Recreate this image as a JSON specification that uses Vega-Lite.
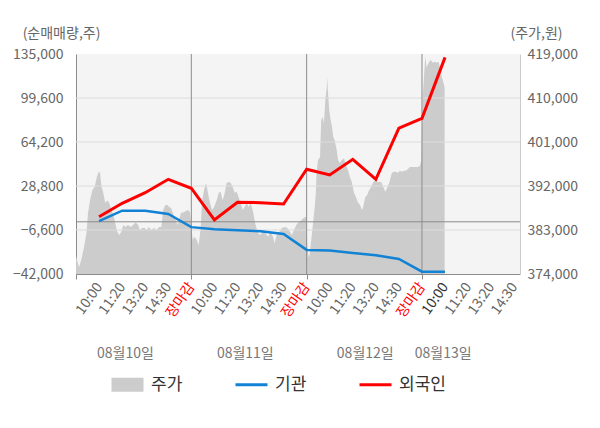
{
  "$schema": "https://vega.github.io/schema/vega-lite/v6.json",
  "width": 444,
  "height": 220,
  "autosize": "none",
  "padding": {"left": 76, "top": 54, "right": 80, "bottom": 154},
  "background": "#ffffff",
  "config": {
    "font": "Noto Sans CJK KR",
    "view": {"stroke": null, "fill": "#f4f4f4"},
    "axis": {
      "labelFont": "Noto Sans CJK KR",
      "titleFont": "Noto Sans CJK KR",
      "labelColor": "#666666",
      "titleColor": "#666666",
      "labelFontSize": 14,
      "titleFontSize": 14,
      "titleFontWeight": "normal",
      "grid": false,
      "ticks": false
    },
    "legend": {
      "title": null,
      "orient": "none",
      "legendX": 43,
      "legendY": 322,
      "direction": "horizontal",
      "padding": 0,
      "labelFont": "Noto Sans CJK KR",
      "labelFontSize": 17,
      "labelColor": "#333333",
      "labelOffset": 15,
      "columnPadding": 46,
      "symbolSize": 1024
    }
  },
  "datasets": {
    "price": [
      {"t": 0, "p": 377700}, {"t": 0.13, "p": 375400}, {"t": 0.23, "p": 376900}, {"t": 0.35, "p": 379500},
      {"t": 0.46, "p": 382600}, {"t": 0.52, "p": 386500}, {"t": 0.61, "p": 389100}, {"t": 0.71, "p": 391200},
      {"t": 0.81, "p": 391800}, {"t": 0.9, "p": 393800}, {"t": 0.98, "p": 394900}, {"t": 1.04, "p": 394700},
      {"t": 1.11, "p": 391800}, {"t": 1.18, "p": 390600}, {"t": 1.27, "p": 388500}, {"t": 1.36, "p": 389100},
      {"t": 1.44, "p": 388500}, {"t": 1.53, "p": 387100}, {"t": 1.62, "p": 386100}, {"t": 1.72, "p": 384000},
      {"t": 1.79, "p": 382600}, {"t": 1.88, "p": 382000}, {"t": 1.96, "p": 382600}, {"t": 2.05, "p": 384000},
      {"t": 2.15, "p": 383600}, {"t": 2.25, "p": 384000}, {"t": 2.37, "p": 383600}, {"t": 2.48, "p": 384000},
      {"t": 2.59, "p": 384600}, {"t": 2.69, "p": 384000}, {"t": 2.77, "p": 383000}, {"t": 2.87, "p": 383400},
      {"t": 2.98, "p": 383400}, {"t": 3.06, "p": 383000}, {"t": 3.16, "p": 383600}, {"t": 3.26, "p": 383000},
      {"t": 3.38, "p": 383400}, {"t": 3.5, "p": 383000}, {"t": 3.6, "p": 383600}, {"t": 3.7, "p": 383600},
      {"t": 3.78, "p": 387100}, {"t": 3.87, "p": 388100}, {"t": 3.96, "p": 388100}, {"t": 4.04, "p": 387700},
      {"t": 4.12, "p": 387500}, {"t": 4.26, "p": 385700}, {"t": 4.41, "p": 384000}, {"t": 4.55, "p": 386500},
      {"t": 4.69, "p": 386700}, {"t": 4.84, "p": 387100}, {"t": 4.94, "p": 386700}, {"t": 5.0, "p": 383600},
      {"t": 5.06, "p": 381000}, {"t": 5.13, "p": 381600}, {"t": 5.23, "p": 381000}, {"t": 5.32, "p": 379900},
      {"t": 5.41, "p": 383600}, {"t": 5.46, "p": 388500}, {"t": 5.55, "p": 391200}, {"t": 5.64, "p": 392600},
      {"t": 5.72, "p": 390600}, {"t": 5.81, "p": 388500}, {"t": 5.9, "p": 387100}, {"t": 5.99, "p": 387700},
      {"t": 6.1, "p": 389100}, {"t": 6.19, "p": 390600}, {"t": 6.27, "p": 390800}, {"t": 6.36, "p": 389100},
      {"t": 6.45, "p": 390600}, {"t": 6.53, "p": 392600}, {"t": 6.62, "p": 392800}, {"t": 6.71, "p": 392600},
      {"t": 6.79, "p": 391800}, {"t": 6.88, "p": 390600}, {"t": 6.97, "p": 390800}, {"t": 7.05, "p": 389700},
      {"t": 7.14, "p": 388500}, {"t": 7.23, "p": 387100}, {"t": 7.31, "p": 387700}, {"t": 7.4, "p": 388500},
      {"t": 7.49, "p": 387700}, {"t": 7.57, "p": 388500}, {"t": 7.66, "p": 387100}, {"t": 7.77, "p": 384400},
      {"t": 7.88, "p": 382400}, {"t": 8.01, "p": 382000}, {"t": 8.11, "p": 383000}, {"t": 8.21, "p": 382400},
      {"t": 8.32, "p": 381600}, {"t": 8.44, "p": 382600}, {"t": 8.54, "p": 381600}, {"t": 8.61, "p": 380300},
      {"t": 8.7, "p": 382000}, {"t": 8.81, "p": 382600}, {"t": 8.93, "p": 383400}, {"t": 9.05, "p": 383600},
      {"t": 9.16, "p": 383400}, {"t": 9.28, "p": 382600}, {"t": 9.36, "p": 382000}, {"t": 9.45, "p": 383000},
      {"t": 9.55, "p": 384000}, {"t": 9.65, "p": 384600}, {"t": 9.77, "p": 385000}, {"t": 9.88, "p": 385500},
      {"t": 9.97, "p": 385700}, {"t": 10.03, "p": 379500}, {"t": 10.09, "p": 377300}, {"t": 10.14, "p": 378300},
      {"t": 10.2, "p": 381000}, {"t": 10.29, "p": 385000}, {"t": 10.35, "p": 387700}, {"t": 10.4, "p": 390600},
      {"t": 10.43, "p": 394700}, {"t": 10.49, "p": 397300}, {"t": 10.58, "p": 397900}, {"t": 10.63, "p": 405500},
      {"t": 10.69, "p": 406100}, {"t": 10.75, "p": 404900}, {"t": 10.81, "p": 409600}, {"t": 10.87, "p": 412200},
      {"t": 10.89, "p": 414300}, {"t": 10.92, "p": 411600}, {"t": 10.98, "p": 407500}, {"t": 11.04, "p": 405500},
      {"t": 11.1, "p": 404100}, {"t": 11.15, "p": 402000}, {"t": 11.21, "p": 401400}, {"t": 11.3, "p": 399400},
      {"t": 11.36, "p": 397300}, {"t": 11.44, "p": 396700}, {"t": 11.53, "p": 397300}, {"t": 11.62, "p": 397700},
      {"t": 11.7, "p": 396300}, {"t": 11.79, "p": 395300}, {"t": 11.88, "p": 393800}, {"t": 11.96, "p": 392800},
      {"t": 12.05, "p": 390600}, {"t": 12.14, "p": 389700}, {"t": 12.22, "p": 388700}, {"t": 12.31, "p": 388100},
      {"t": 12.4, "p": 387100}, {"t": 12.45, "p": 387700}, {"t": 12.54, "p": 389700}, {"t": 12.63, "p": 390200},
      {"t": 12.71, "p": 391200}, {"t": 12.8, "p": 391800}, {"t": 12.89, "p": 392800}, {"t": 12.97, "p": 393200},
      {"t": 13.06, "p": 392800}, {"t": 13.15, "p": 392800}, {"t": 13.23, "p": 392800}, {"t": 13.32, "p": 391800},
      {"t": 13.41, "p": 390800}, {"t": 13.49, "p": 391600}, {"t": 13.58, "p": 392600}, {"t": 13.64, "p": 393800},
      {"t": 13.7, "p": 394700}, {"t": 13.78, "p": 394900}, {"t": 13.87, "p": 394900}, {"t": 13.96, "p": 394700},
      {"t": 14.04, "p": 395100}, {"t": 14.13, "p": 394900}, {"t": 14.22, "p": 395100}, {"t": 14.3, "p": 395100},
      {"t": 14.39, "p": 395500}, {"t": 14.48, "p": 395900}, {"t": 14.56, "p": 395900}, {"t": 14.65, "p": 395900},
      {"t": 14.74, "p": 395900}, {"t": 14.82, "p": 395900}, {"t": 14.91, "p": 396100}, {"t": 14.97, "p": 397300},
      {"t": 15.03, "p": 410200}, {"t": 15.08, "p": 413700}, {"t": 15.14, "p": 418400}, {"t": 15.2, "p": 416300},
      {"t": 15.29, "p": 417200}, {"t": 15.38, "p": 417800}, {"t": 15.46, "p": 417200}, {"t": 15.55, "p": 417400},
      {"t": 15.63, "p": 417200}, {"t": 15.72, "p": 417400}, {"t": 15.81, "p": 415700}, {"t": 15.86, "p": 414300},
      {"t": 15.93, "p": 413100}, {"t": 15.98, "p": 412200}
    ],
    "net": [
      {"t": 1, "series": "기관", "v": 500},
      {"t": 2, "series": "기관", "v": 8900},
      {"t": 3, "series": "기관", "v": 8800},
      {"t": 4, "series": "기관", "v": 6300},
      {"t": 5, "series": "기관", "v": -4300},
      {"t": 6, "series": "기관", "v": -6000},
      {"t": 7, "series": "기관", "v": -6800},
      {"t": 8, "series": "기관", "v": -7600},
      {"t": 9, "series": "기관", "v": -9800},
      {"t": 10, "series": "기관", "v": -22600},
      {"t": 11, "series": "기관", "v": -23000},
      {"t": 12, "series": "기관", "v": -25100},
      {"t": 13, "series": "기관", "v": -26900},
      {"t": 14, "series": "기관", "v": -29900},
      {"t": 15, "series": "기관", "v": -40100},
      {"t": 16, "series": "기관", "v": -40100},
      {"t": 1, "series": "외국인", "v": 4100},
      {"t": 2, "series": "외국인", "v": 14900},
      {"t": 3, "series": "외국인", "v": 23400},
      {"t": 4, "series": "외국인", "v": 34200},
      {"t": 5, "series": "외국인", "v": 27000},
      {"t": 6, "series": "외국인", "v": 1450},
      {"t": 7, "series": "외국인", "v": 15700},
      {"t": 8, "series": "외국인", "v": 15400},
      {"t": 9, "series": "외국인", "v": 14300},
      {"t": 10, "series": "외국인", "v": 42300},
      {"t": 11, "series": "외국인", "v": 37650},
      {"t": 12, "series": "외국인", "v": 50300},
      {"t": 13, "series": "외국인", "v": 34200},
      {"t": 14, "series": "외국인", "v": 75300},
      {"t": 15, "series": "외국인", "v": 83300},
      {"t": 16, "series": "외국인", "v": 132300}
    ],
    "grid": [{"v": 99600}, {"v": 64200}, {"v": 28800}, {"v": -6600}],
    "days": [{"d": 5}, {"d": 10}, {"d": 15}],
    "zero": [{"v": 0}]
  },
  "layer": [
    {
      "data": {"name": "price"},
      "mark": {"type": "area"},
      "encoding": {
        "x": {
          "field": "t",
          "type": "quantitative",
          "scale": {"domain": [0, 19.25], "nice": false, "zero": false},
          "axis": {
            "title": null,
            "values": [0, 1, 2, 3, 4, 5, 6, 7, 8, 9, 10, 11, 12, 13, 14, 15, 16, 17, 18, 19],
            "labelExpr": "['', '10:00', '11:20', '13:20', '14:30', '장마감', '10:00', '11:20', '13:20', '14:30', '장마감', '10:00', '11:20', '13:20', '14:30', '장마감', '10:00', '11:20', '13:20', '14:30'][datum.value]",
            "labelAngle": -55,
            "labelAlign": "right",
            "labelBaseline": "middle",
            "labelPadding": 5,
            "labelOverlap": false,
            "labelFlush": false,
            "labelBound": false,
            "labelColor": {
              "condition": [
                {"test": "datum.value > 0 && datum.value % 5 === 0", "value": "#ff0000"},
                {"test": "datum.value === 16", "value": "#333333"}
              ],
              "value": "#666666"
            },
            "ticks": true,
            "tickSize": 5,
            "tickColor": {
              "condition": {"test": "datum.value % 5 === 0", "value": "#8c8c8c"},
              "value": "transparent"
            },
            "domainColor": "#8c8c8c"
          }
        },
        "y": {
          "field": "p",
          "type": "quantitative",
          "scale": {"domain": [374000, 419000], "nice": false, "zero": false},
          "axis": {
            "orient": "right",
            "values": [374000, 383000, 392000, 401000, 410000, 419000],
            "format": ",d",
            "title": "(주가,원)",
            "titleAngle": 0,
            "titleX": 16,
            "titleY": -21,
            "titleAlign": "center",
            "titleBaseline": "middle",
            "labelPadding": 7,
            "domainColor": "#cccccc"
          }
        },
        "y2": {"datum": 374000},
        "color": {
          "datum": "주가",
          "type": "nominal",
          "scale": {
            "domain": ["주가", "기관", "외국인"],
            "range": ["#cccccc", "#1182d4", "#ff0000"]
          },
          "legend": {
            "title": null,
            "encode": {
              "symbols": {
                "update": {
                  "shape": {"signal": "datum.value === '주가' ? 'M-1,-0.43H1V0.43H-1Z' : 'stroke'"},
                  "fill": {"signal": "datum.value === '주가' ? '#cccccc' : 'transparent'"},
                  "stroke": {"signal": "datum.value === '주가' ? '#cccccc' : (datum.value === '기관' ? '#1182d4' : '#ff0000')"},
                  "strokeWidth": {"signal": "datum.value === '주가' ? 0 : 3"},
                  "opacity": {"value": 1}
                }
              }
            }
          }
        }
      }
    },
    {
      "layer": [
        {
          "data": {"name": "grid"},
          "mark": {"type": "rule", "color": "#dcdcdc", "strokeWidth": 1},
          "encoding": {"y": {"field": "v", "type": "quantitative"}}
        },
        {
          "data": {"name": "zero"},
          "mark": {"type": "rule", "color": "#8c8c8c", "strokeWidth": 1},
          "encoding": {"y": {"field": "v", "type": "quantitative"}}
        },
        {
          "data": {"name": "days"},
          "mark": {"type": "rule", "color": "#8c8c8c", "strokeWidth": 1},
          "encoding": {"x": {"field": "d", "type": "quantitative"}}
        },
        {
          "data": {"name": "net"},
          "mark": {"type": "line"},
          "encoding": {
            "x": {
              "field": "t",
              "type": "quantitative",
              "scale": {"domain": [0, 19.25], "nice": false, "zero": false},
              "axis": {
                "title": null,
                "orient": "bottom",
                "offset": 74,
                "values": [2.12, 7.32, 12.52, 15.9],
                "labelExpr": "datum.value < 5 ? '08월10일' : datum.value < 10 ? '08월11일' : datum.value < 15 ? '08월12일' : '08월13일'",
                "labelAngle": 0,
                "labelAlign": "center",
                "labelBaseline": "middle",
                "labelPadding": 5,
                "labelColor": "#777777",
                "labelOverlap": false,
                "labelFlush": false,
                "domain": false,
                "ticks": false
              }
            },
            "y": {
              "field": "v",
              "type": "quantitative",
              "scale": {"domain": [-42000, 135000], "nice": false, "zero": false},
              "axis": {
                "orient": "left",
                "values": [135000, 99600, 64200, 28800, -6600, -42000],
                "format": ",d",
                "title": "(순매매량,주)",
                "titleAngle": 0,
                "titleX": -15,
                "titleY": -21,
                "titleAlign": "center",
                "titleBaseline": "middle",
                "labelPadding": 13,
                "domainColor": "#8c8c8c"
              }
            },
            "color": {"field": "series", "type": "nominal", "legend": {"title": null}},
            "strokeWidth": {
              "field": "series",
              "type": "nominal",
              "scale": {"domain": ["기관", "외국인"], "range": [2.5, 3]},
              "legend": null
            }
          }
        }
      ]
    }
  ],
  "resolve": {"scale": {"x": "independent", "y": "independent"}}
}
